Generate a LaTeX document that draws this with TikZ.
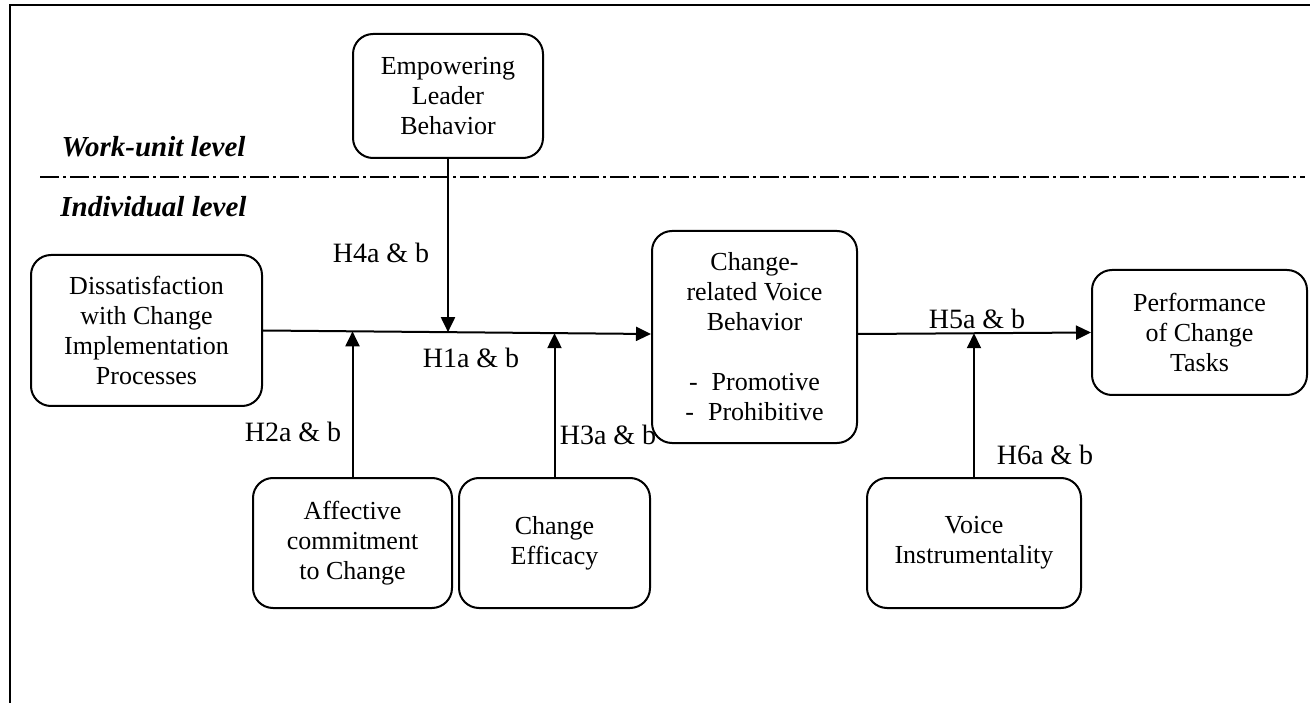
\documentclass[tikz,border=0pt]{standalone}
\usepackage{fontspec}
\setmainfont{Liberation Serif}
\usetikzlibrary{arrows.meta}
\begin{document}
\begin{tikzpicture}[x=1pt,y=-1pt,
  box/.style={draw,line width=2pt,rounded corners=20pt,align=center,inner sep=0pt,
    font=\fontsize{26}{30}\selectfont},
  hlab/.style={inner sep=0pt,font=\fontsize{28}{32}\selectfont},
  lvl/.style={inner sep=0pt,font=\fontsize{29}{32}\selectfont\bfseries\itshape},
  arr/.style={line width=2pt,-{Triangle[length=15pt,width=14pt]}}]
\useasboundingbox (0,0) rectangle (1310,703);
% frame (left and top)
\coordinate (fbl) at (10,703);
\coordinate (ftl) at (10,5);
\coordinate (ftr) at (1310,5);
\draw[line width=2pt] (fbl) -- (ftl) -- (ftr);
% level divider
\coordinate (dl) at (40,177);
\coordinate (dr) at (1305,177);
\draw[line width=2pt,dash pattern=on 19pt off 4pt on 3pt off 4pt] (dl) -- (dr);
\node[lvl] (wul) at (153.5,147) {Work-unit level};
\node[lvl] (indl) at (153.5,207) {Individual level};
% boxes
\node[box,minimum width=190pt,minimum height=124pt] (emp) at (448,96) {Empowering\\Leader\\Behavior};
\node[box,minimum width=231pt,minimum height=151pt] (dis) at (146.5,330.5) {Dissatisfaction\\with Change\\Implementation\\Processes};
\node[box,minimum width=205pt,minimum height=212pt] (crv) at (754.5,337) {Change-\\related Voice\\Behavior\\[30pt]-\hspace{14pt}Promotive\\-\hspace{14pt}Prohibitive};
\node[box,minimum width=215pt,minimum height=125pt] (perf) at (1199.5,332.5) {Performance\\of Change\\Tasks};
\node[box,minimum width=199pt,minimum height=130pt] (aff) at (352.5,543) {Affective\\commitment\\to Change};
\node[box,minimum width=191pt,minimum height=130pt] (eff) at (554.5,543) {Change\\Efficacy};
\node[box,minimum width=214pt,minimum height=130pt] (vi) at (974,543) {Voice\\Instrumentality};
% main paths
\draw[arr] (dis.east) -- ([yshift=3pt]crv.west)
  coordinate[pos=0.233] (j2) coordinate[pos=0.474] (j4) coordinate[pos=0.754] (j3);
\draw[arr] ([yshift=3pt]crv.east) -- (perf.west) coordinate[pos=0.5] (j6);
% moderators
\draw[arr] (emp.south) -- (emp.south |- j4);
\draw[arr] (aff.north) -- (aff.north |- j2);
\draw[arr] (eff.north) -- (eff.north |- j3);
\draw[arr] (vi.north) -- (vi.north |- j6);
% labels
\node[hlab] (l4) at (381,253) {H4a \& b};
\node[hlab] (l1) at (471,358) {H1a \& b};
\node[hlab] (l2) at (293,432) {H2a \& b};
\node[hlab] (l3) at (608,435) {H3a \& b};
\node[hlab] (l5) at (977,319) {H5a \& b};
\node[hlab] (l6) at (1045,455) {H6a \& b};
\end{tikzpicture}
\end{document}
